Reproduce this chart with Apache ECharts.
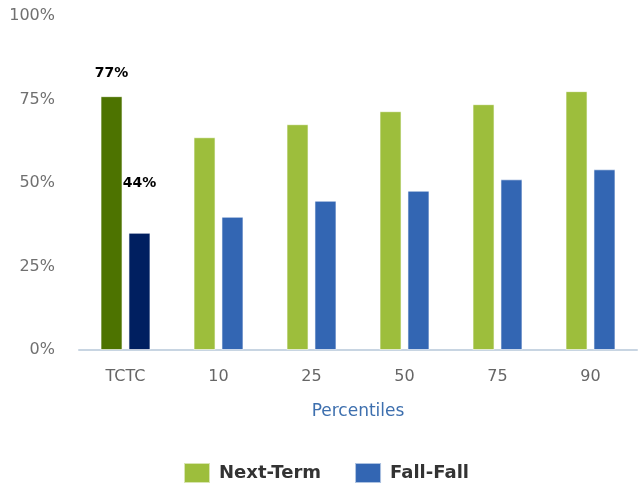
<!DOCTYPE html>
<html><head><meta charset="utf-8">
<script src="https://cdn.jsdelivr.net/npm/echarts@6/dist/echarts.min.js"></script>
<style>html,body{margin:0;padding:0;background:#fff}#c{width:638px;height:487px}</style>
</head><body><div id="c"></div>
<script>
const categories = ['TCTC', '10', '25', '50', '75', '90'];
const nextTerm = [76, 63.7, 67.6, 71.5, 73.6, 77.5];
const fallFall = [35.1, 39.9, 44.7, 47.7, 51.1, 54.1];
const nextTermLabels = ['77%', '', '', '', '', ''];
const fallFallLabels = ['44%', '', '', '', '', ''];
const yTicks = [0, 25, 50, 75, 100];

const colors = { next: '#9dbe3c', nextHi: '#4d7300', fall: '#3366b3', fallHi: '#001f60' };
const font = 'DejaVu Sans, Verdana, sans-serif';

function build(vals, labels, base, hi, dist) {
  return vals.map((v, i) => {
    const item = { value: v, itemStyle: { color: i === 0 ? hi : base } };
    if (labels[i]) {
      item.label = { show: true, position: 'top', distance: dist, formatter: labels[i],
        color: '#000', fontWeight: 'bold', fontSize: 14, fontFamily: font };
    }
    return item;
  });
}

const chart = echarts.init(document.getElementById('c'));
chart.setOption({
  animation: false,
  grid: { left: 79, right: 1, top: 16, bottom: 137 },
  legend: {
    bottom: 3, left: 183, padding: 0, itemWidth: 26, itemHeight: 20, itemGap: 33,
    icon: 'rect',
    textStyle: { fontSize: 18, fontWeight: 'bold', color: '#333', fontFamily: font, padding: [0, 0, 0, 4] },
    data: [{ name: 'Next-Term', itemStyle: { color: colors.next } }, { name: 'Fall-Fall', itemStyle: { color: colors.fall } }]
  },
  xAxis: {
    type: 'category', data: categories,
    name: 'Percentiles', nameLocation: 'middle', nameGap: 53,
    nameTextStyle: { color: '#3d6fae', fontSize: 17, fontFamily: font },
    axisLine: { lineStyle: { color: '#c8d5e2', width: 2 } },
    axisTick: { show: false },
    axisLabel: { color: '#666', fontSize: 16, margin: 19, fontFamily: font }
  },
  yAxis: {
    type: 'value', min: yTicks[0], max: yTicks[yTicks.length - 1], interval: 25,
    splitLine: { show: false },
    axisLine: { show: false }, axisTick: { show: false },
    axisLabel: { formatter: '{value}%', color: '#707070', fontSize: 16, margin: 24, fontFamily: font }
  },
  series: [
    { name: 'Next-Term', type: 'bar', barWidth: 22, barGap: '27%',
      itemStyle: { color: colors.next, borderColor: 'rgba(255,255,255,0.6)', borderWidth: 1 },
      data: build(nextTerm, nextTermLabels, colors.next, colors.nextHi, 16) },
    { name: 'Fall-Fall', type: 'bar', barWidth: 22,
      itemStyle: { color: colors.fall, borderColor: 'rgba(255,255,255,0.6)', borderWidth: 1 },
      data: build(fallFall, fallFallLabels, colors.fall, colors.fallHi, 42) }
  ]
});
</script></body></html>
